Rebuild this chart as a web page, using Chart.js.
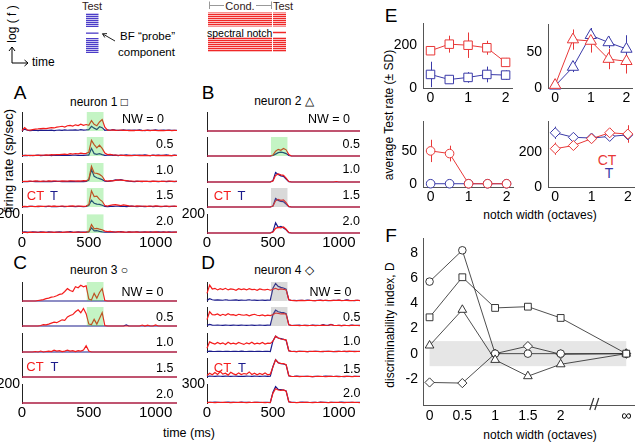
<!DOCTYPE html>
<html><head><meta charset="utf-8">
<script src="https://cdn.jsdelivr.net/npm/chart.js@4.4.0/dist/chart.umd.min.js"></script>
<style>
body{margin:0;width:640px;height:442px;position:relative;overflow:hidden;background:#fff;font-family:"Liberation Sans",Arial,sans-serif;color:#000;}
canvas{position:absolute;}
.t{position:absolute;white-space:nowrap;line-height:1;}
</style></head><body>
<svg width="300" height="70" style="position:absolute;left:0;top:0">
<defs>
<pattern id="pb" width="8" height="2" patternUnits="userSpaceOnUse"><rect width="8" height="1.3" fill="#4b3cc8"/></pattern>
<pattern id="pr" width="8" height="2" patternUnits="userSpaceOnUse"><rect width="8" height="1.3" fill="#f02828"/></pattern>
</defs>
<rect x="86" y="13" width="12.5" height="14" fill="url(#pb)"/>
<rect x="86" y="32.5" width="12.5" height="1.3" fill="#4b3cc8"/>
<rect x="86" y="38" width="12.5" height="15" fill="url(#pb)"/>
<rect x="208" y="12.5" width="78" height="14" fill="url(#pr)"/>
<rect x="208" y="37" width="78" height="15" fill="url(#pr)"/>
<line x1="272.5" y1="12" x2="272.5" y2="53" stroke="#fff" stroke-width="1"/>
<line x1="273" y1="32.5" x2="286" y2="32.5" stroke="#f02828" stroke-width="1.5"/>
<path d="M209.5 1.5 V9 M209.5 5.5 H224 M256 5.5 H271.5 M271.5 1.5 V9" stroke="#999" fill="none"/>
<path d="M115 41 L102.5 33.8 M102.5 33.8 L107 33.6 M102.5 33.8 L104.8 37.5" stroke="#222" fill="none"/>
<path d="M12 63 V47 M9 51 L12 47 L15 51 M12 63 H28 M24.5 60 L28 63 L24.5 66" stroke="#000" fill="none"/>
</svg>
<div class="t" style="left:11.5px;top:24px;font-size:12px;transform:translate(-50%,-50%) rotate(-90deg)">log ( f )</div>
<div class="t" style="left:32px;top:62px;font-size:12px;transform:translateY(-50%)">time</div>
<div class="t" style="left:92px;top:6px;font-size:11px;color:#302020;transform:translate(-50%,-50%)">Test</div>
<div class="t" style="left:120px;top:37px;font-size:11.5px;transform:translateY(-50%)">BF “probe”</div>
<div class="t" style="left:118px;top:53px;font-size:11.5px;transform:translateY(-50%)">component</div>
<div class="t" style="left:240px;top:5.5px;font-size:11px;color:#302020;transform:translate(-50%,-50%)">Cond.</div>
<div class="t" style="left:283px;top:5.5px;font-size:11px;color:#302020;transform:translate(-50%,-50%)">Test</div>
<div class="t" style="left:207px;top:32.5px;font-size:10.5px;transform:translateY(-50%)">spectral notch</div>

<div class="t" style="left:20px;top:92px;font-size:19px;transform:translate(-50%,-50%)">A</div>
<div class="t" style="left:208px;top:92px;font-size:19px;transform:translate(-50%,-50%)">B</div>
<div class="t" style="left:20px;top:262px;font-size:19px;transform:translate(-50%,-50%)">C</div>
<div class="t" style="left:208px;top:262px;font-size:19px;transform:translate(-50%,-50%)">D</div>
<div class="t" style="left:391px;top:15px;font-size:19px;transform:translate(-50%,-50%)">E</div>
<div class="t" style="left:391px;top:235px;font-size:19px;transform:translate(-50%,-50%)">F</div>

<div class="t" style="left:99px;top:102px;font-size:12px;transform:translate(-50%,-50%)">neuron 1 □</div>
<div class="t" style="left:284px;top:101px;font-size:12px;transform:translate(-50%,-50%)">neuron 2 △</div>
<div class="t" style="left:99px;top:270px;font-size:12px;transform:translate(-50%,-50%)">neuron 3 ○</div>
<div class="t" style="left:284px;top:270px;font-size:12px;transform:translate(-50%,-50%)">neuron 4 ◇</div>

<div class="t" style="left:8px;top:161px;font-size:13px;transform:translate(-50%,-50%) rotate(-90deg)">firing rate (sp/sec)</div>
<div class="t" style="left:189px;top:433px;font-size:12.5px;transform:translate(-50%,-50%)">time (ms)</div>
<div class="t" style="left:389px;top:115px;font-size:12px;transform:translate(-50%,-50%) rotate(-90deg)">average Test rate (± SD)</div>
<div class="t" style="left:390px;top:325px;font-size:12px;transform:translate(-50%,-50%) rotate(-90deg)">discriminability index, D</div>
<div class="t" style="left:540px;top:215px;font-size:12px;transform:translate(-50%,-50%)">notch width (octaves)</div>
<div class="t" style="left:540px;top:435px;font-size:12px;transform:translate(-50%,-50%)">notch width (octaves)</div>
<div class="t" style="left:607px;top:160px;font-size:14px;color:#e83838;transform:translate(-50%,-50%)">CT</div>
<div class="t" style="left:609px;top:173px;font-size:14px;color:#3a3aa8;transform:translate(-50%,-50%)">T</div>

<div id="lab"></div>
<script>
// ---------- DATA ----------
const times = [0,20,40,60,80,100,120,140,160,180,200,220,240,260,280,300,320,340,360,380,400,420,440,460,480,
 500,520,540,560,580,600,620,
 640,660,680,700,720,740,760,780,800,820,840,860,880,900,920,940,960,980,1000,1020,1040,1060,1080,1100,1120,1140,1160,1180,1200];
const timeTicks = [0,500,1000];
const testWindow = [485, 610];
const nwLabels = ['NW = 0','0.5','1.0','1.5','2.0'];

// neuron 1 (A): CT (red) and T (blue) PSTHs, sp/sec
const a0r = [5,35,12,10,15, 20,22,25,28,25, 30,35,32,40,45, 50,42,55,60,52, 65,58,72,60,68,
 60,110,70,55,95,120,40,
 10,8,12,6,8, 10,6,8,5,7, 5,8,6,5,7, 6,5,8,6,5, 7,5,6,8,5, 6,5,7,5];
const a0b = [3,20,8,5,6, 8,5,10,6,8, 6,9,5,8,10, 7,12,8,10,9, 12,8,15,10,12,
 15,50,30,15,45,35,8,
 12,8,15,10,6, 8,12,6,10,7, 9,6,12,8,5, 10,7,6,12,8, 6,9,7,10,6, 8,6,9,7];
const a1r = [5,6,8,5,7, 8,6,10,8,12, 10,14,12,16,14, 18,20,16,24,20, 26,22,30,25,28,
 40,165,120,85,115,80,30,
 15,18,12,10,8, 6,7,5,6,4, 5,6,4,7,5, 6,5,8,5,6, 5,7,4,6,5, 6,5,7,5];
const a1b = [4,6,5,8,5, 6,9,5,7,6, 8,5,9,6,7, 8,6,10,7,8, 9,6,8,7,9,
 10,80,25,18,25,15,6,
 8,12,6,9,5, 10,7,12,8,6, 9,7,10,6,12, 8,5,9,7,10, 6,8,12,7,5, 9,6,8,7];
const a2r = [5,8,6,10,8, 12,9,7,10,8, 11,9,13,10,8, 12,10,9,11,13, 10,12,9,14,11,
 30,165,95,90,80,60,15,
 10,15,12,18,22, 20,18,15,12,10, 8,10,7,9,6, 8,7,9,6,8, 7,6,8,9,6, 7,8,6,7];
const a2b = [3,5,4,6,5, 4,6,5,7,5, 6,4,5,6,7, 5,6,4,6,5, 7,5,6,5,6,
 20,130,60,45,35,25,8,
 6,10,15,22,20, 25,18,12,8,6, 5,7,6,5,8, 6,5,7,6,5, 6,8,5,7,6, 5,7,6,5];
const a3r = [4,6,5,8,6, 5,9,7,6,8, 10,7,9,6,8, 10,8,7,9,11, 8,10,9,7,10,
 25,170,110,115,80,60,15,
 10,18,22,25,20, 15,22,18,12,10, 8,12,10,8,9, 7,10,8,12,9, 7,8,10,6,8, 9,7,8,6];
const a3b = [3,5,4,6,8, 5,4,6,5,4, 8,5,6,4,5, 6,4,5,7,5, 4,6,5,4,6,
 15,70,40,30,28,18,6,
 5,7,6,8,10, 6,8,5,7,9, 6,5,7,6,5, 6,8,5,6,7, 5,6,8,5,6, 7,5,6,5];
const a4r = [6,8,5,9,7, 10,8,6,9,7, 8,10,7,9,8, 6,9,11,8,7, 9,10,8,7,9,
 15,90,45,50,42,35,20,
 15,18,12,10,14, 10,12,8,11,9, 10,12,8,10,9, 11,8,10,12,9, 8,10,11,9,8, 10,9,8,10];
const a4b = [8,12,10,6,11, 9,7,12,10,8, 11,9,6,10,12, 9,8,11,14,10, 8,12,9,11,10,
 12,55,22,25,18,12,8,
 10,8,12,9,11, 14,10,8,12,9, 11,13,9,10,12, 8,11,9,10,13, 9,11,8,12,10, 9,11,10,8];

// neuron 2 (B)
const flat = [0,0,0,0,0, 0,0,0,0,0, 0,0,0,0,0, 0,0,0,0,0, 0,0,0,0,0,
 0,0,0,0,0,0,0,
 0,0,0,0,0, 0,0,0,0,0, 0,0,0,0,0, 0,0,0,0,0, 0,0,0,0,0, 0,0,0,0];
const b0r = flat, b0b = flat;
const b1r = [0,0,0,0,0, 0,0,0,0,0, 0,0,0,0,0, 0,0,0,0,0, 0,0,0,0,0,
 10,50,70,60,80,65,15,
 0,0,0,0,0, 0,0,0,0,0, 0,0,0,0,0, 0,0,0,0,0, 0,0,0,0,0, 0,0,0,0];
const b1b = [0,0,0,0,0, 0,0,0,0,0, 0,0,0,0,0, 0,0,0,0,0, 0,0,0,0,0,
 5,20,35,40,35,25,5,
 0,0,0,0,0, 0,0,0,0,0, 0,0,0,0,0, 0,0,0,0,0, 0,0,0,0,0, 0,0,0,0];
const b2r = [0,0,0,0,0, 0,0,0,0,0, 0,0,0,0,0, 0,0,0,0,0, 0,0,0,0,0,
 10,70,85,75,70,40,5,
 0,0,0,0,0, 0,0,0,0,0, 0,0,0,0,0, 0,0,5,0,0, 0,0,0,0,0, 0,0,0,0];
const b2b = [0,0,0,0,0, 0,0,0,0,0, 0,0,0,0,0, 0,0,0,0,0, 0,0,0,0,0,
 15,100,80,65,60,30,3,
 0,0,0,0,0, 0,0,0,0,0, 0,0,0,0,0, 0,0,0,0,0, 0,0,0,0,0, 0,0,0,0];
const b3r = [0,0,0,0,0, 0,0,0,0,0, 0,0,0,0,0, 0,0,0,0,0, 0,0,0,0,0,
 10,65,80,70,75,45,5,
 0,0,0,0,0, 0,0,0,0,0, 0,0,0,0,0, 0,0,0,0,0, 0,0,0,0,0, 0,0,0,0];
const b3b = [0,0,0,0,0, 0,0,0,0,0, 0,0,0,0,0, 0,0,0,0,0, 0,0,0,0,0,
 10,90,70,60,55,30,3,
 0,0,0,0,0, 0,0,0,0,0, 0,0,0,0,0, 0,0,0,0,0, 0,0,0,0,0, 0,0,0,0];
const b4r = [0,0,0,0,0, 0,0,0,0,0, 0,0,0,0,0, 0,0,0,0,0, 0,0,0,0,0,
 10,50,60,55,65,40,5,
 0,0,0,0,0, 0,0,0,0,0, 0,0,0,0,0, 0,0,0,0,0, 0,0,0,0,0, 0,0,0,0];
const b4b = [0,0,0,0,0, 0,0,0,0,0, 0,0,0,0,0, 0,0,0,0,0, 0,0,0,0,0,
 15,110,60,70,55,35,3,
 0,0,0,0,0, 0,0,0,0,0, 0,0,0,0,0, 0,0,0,0,0, 0,0,0,0,0, 0,0,0,0];

// neuron 3 (C)
const c0r = [0,0,0,0,0, 0,5,10,15,25, 30,40,45,55,70, 75,100,130,110,100, 150,140,165,150,160,
 20,10,80,30,90,130,5,
 0,0,0,0,0, 0,0,0,0,0, 0,0,0,0,0, 0,0,0,0,0, 0,0,0,0,0, 0,0,0,0];
const c0b = flat;
const c1r = [0,0,0,0,0, 0,0,5,15,12, 20,30,40,35,50, 65,60,95,110,120, 150,170,140,185,130,
 20,15,70,20,80,140,5,
 0,0,0,0,0, 0,0,0,0,0, 0,0,0,10,0, 8,0,0,12,0, 0,0,0,0,0, 0,0,10,0];
const c1b = [0,0,0,0,0, 0,0,0,0,0, 0,0,0,0,0, 0,0,0,0,0, 0,0,0,0,0,
 0,0,0,0,0,0,0,
 0,0,0,0,0, 0,0,12,0,0, 0,0,0,0,0, 0,0,0,0,0, 0,0,0,0,0, 0,0,0,0];
const c2r = [0,0,0,0,0, 5,0,10,0,5, 10,5,20,10,15, 5,10,20,10,15, 5,15,10,20,65,
 10,0,0,0,0,0,0,
 0,0,0,0,0, 0,0,0,0,0, 0,0,0,0,0, 0,0,0,0,0, 0,0,0,0,0, 0,0,0,0];
const c2b = flat, c3r = flat, c3b = flat, c4r = flat, c4b = flat;

// neuron 4 (D)
const d0r = [120,250,190,200,175, 195,180,200,175,190, 185,170,195,180,190, 175,195,180,185,170, 190,180,175,185,170,
 185,200,180,190,185,175,20,
 10,5,8,6,10, 5,8,12,6,5, 8,10,6,12,8, 5,10,8,15,6, 8,10,5,7,9, 12,6,8,5];
const d0b = [10,35,20,15,18, 15,12,20,14,12, 15,18,10,14,12, 15,20,12,14,10, 12,15,10,14,12,
 200,275,230,215,205,185,20,
 8,10,6,12,10, 8,15,10,8,6, 12,15,8,10,6, 8,12,10,15,8, 12,18,10,8,6, 12,8,10,6];
const d1r = [100,225,180,175,190, 165,185,170,195,175, 180,165,185,175,170, 180,160,175,185,170, 165,175,160,170,165,
 180,205,200,190,195,185,20,
 10,8,12,6,8, 10,5,8,12,6, 8,10,15,8,12, 20,10,8,12,6, 10,8,6,12,10, 8,6,10,8];
const d1b = [10,25,15,12,15, 12,10,15,12,10, 14,12,10,15,12, 10,12,14,10,12, 15,12,10,14,12,
 180,250,225,215,210,195,20,
 8,12,10,15,8, 10,12,8,15,10, 12,8,20,12,10, 25,12,8,10,6, 12,8,10,15,8, 10,12,6,8];
const d2r = [60,160,140,125,150, 130,145,120,155,130, 140,125,150,135,120, 145,130,155,125,140, 130,150,125,140,135,
 170,250,220,205,200,190,20,
 10,8,6,12,8, 10,6,8,12,10, 8,6,10,8,12, 10,8,6,10,8, 12,10,15,8,6, 10,8,6,10];
const d2b = [5,15,10,8,12, 10,8,12,10,8, 12,10,8,15,10, 8,12,10,8,10, 12,8,10,12,8,
 175,250,220,210,200,185,20,
 8,10,6,12,10, 8,6,10,8,12, 10,8,6,12,10, 8,6,10,12,8, 10,6,8,10,12, 8,10,6,8];
const d3r = [25,60,35,70,40, 85,45,60,30,75, 50,35,65,40,55, 45,80,40,60,35, 55,40,65,35,45,
 160,270,225,215,210,195,20,
 10,8,12,6,10, 8,12,10,6,8, 10,12,8,6,10, 12,8,10,6,8, 12,10,8,6,10, 8,12,10,6];
const d3b = [8,15,12,10,14, 12,10,15,12,10, 12,14,10,12,10, 15,12,10,14,12, 10,12,15,10,12,
 165,275,225,210,205,190,20,
 8,10,15,12,8, 10,12,8,6,10, 12,8,10,15,12, 10,8,12,10,8, 6,10,12,8,10, 12,8,10,6];
const d4r = [5,10,8,6,10, 8,12,10,8,6, 10,8,12,10,8, 6,10,8,12,10, 8,10,6,8,10,
 160,230,210,205,210,190,20,
 10,8,6,10,8, 12,10,8,6,10, 8,12,10,8,6, 10,8,12,10,8, 6,10,8,12,10, 8,6,10,8];
const d4b = [8,12,10,15,12, 10,8,12,15,10, 12,10,8,15,12, 10,12,8,10,12, 10,8,12,10,8,
 175,265,220,215,210,195,20,
 10,12,8,10,15, 12,10,8,12,10, 8,15,12,10,8, 12,10,8,10,15, 12,8,10,12,8, 10,12,8,10];

// E: average Test rate (± SD) vs notch width
const notchW = [0, 0.5, 1, 1.5, 2];
const eTicksX = [0, 1, 2];
const n1CT = [176, 207, 202, 190, 121], n1CTsd = [20, 40, 60, 33, 21];
const n1T  = [64, 40, 50, 64, 61],      n1Tsd  = [60, 10, 25, 37, 22];
const n2CT = [4, 67, 65, 40, 37],       n2CTsd = [3, 14, 16, 14, 17];
const n2T  = [3, 29, 73, 63, 54],       n2Tsd  = [2, 7, 10, 8, 19];
const n3CT = [50, 46, 0, 0, 0],         n3CTsd = [17, 12, 0, 0, 0];
const n3T  = [0, 0, 0, 0, 0],           n3Tsd  = [0, 0, 0, 0, 0];
const n4CT = [219, 237, 276, 310, 303], n4CTsd = [35, 25, 15, 25, 50];
const n4T  = [310, 284, 280, 289, 298], n4Tsd  = [35, 20, 10, 15, 20];

// F: discriminability index D
const fX = [0, 0.5, 1, 1.5, 2, 3];
const fXLabels = ['0', '0.5', '1', '1.5', '2', '∞'];
const fYTicks = [-2, 0, 2, 4, 6, 8];
const dN1 = [2.9, 6.1, 3.65, 3.75, 2.85, 0];
const dN2 = [0.65, 3.5, -0.5, -1.8, -0.85, 0];
const dN3 = [5.75, 8.25, 0, 0, 0, 0];
const dN4 = [-2.3, -2.35, 0, 0.6, -0.05, 0];

// ---------- DRAWING ----------
Chart.defaults.font.family = '"Liberation Sans", Arial, sans-serif';
Chart.defaults.color = '#000';
const RED = '#f41c1c', BLUE = '#1c1c8c';
const GREEN = 'rgba(60,220,60,0.3)', GRAY = 'rgba(128,128,128,0.3)';
const ERED = '#e83838', EBLUE = '#3a3aa8', AX = '#555';
const NOGRID = {display: false, drawTicks: false, tickLength: 0};

const shadePlugin = {
  id: 'shade',
  afterDatasetsDraw(chart) {
    const o = chart.options.plugins.shade;
    if (!o || !o.color) return;
    const {ctx, chartArea: a, scales: {x}} = chart;
    const x1 = x.getPixelForValue(o.from), x2 = x.getPixelForValue(o.to);
    ctx.save(); ctx.fillStyle = o.color; ctx.fillRect(x1, a.top, x2 - x1, a.bottom - a.top); ctx.restore();
  }
};
const errPlugin = {
  id: 'errbars',
  beforeDatasetsDraw(chart) {
    const {ctx, scales: {x, y}} = chart;
    chart.data.datasets.forEach(ds => {
      if (!ds.sd) return;
      ctx.save(); ctx.strokeStyle = ds.borderColor; ctx.lineWidth = 1;
      ds.data.forEach((p, i) => {
        const px = Math.round(x.getPixelForValue(p.x)) + 0.5;
        ctx.beginPath();
        ctx.moveTo(px, y.getPixelForValue(p.y - ds.sd[i]));
        ctx.lineTo(px, y.getPixelForValue(p.y + ds.sd[i]));
        ctx.stroke();
      });
      ctx.restore();
    });
  }
};
const bandPlugin = {
  id: 'band',
  beforeDatasetsDraw(chart) {
    const {ctx, scales: {x, y}} = chart;
    const x1 = x.getPixelForValue(0), x2 = x.getPixelForValue(3);
    const y1 = y.getPixelForValue(1), y2 = y.getPixelForValue(-1);
    ctx.save(); ctx.fillStyle = '#e6e6e6'; ctx.fillRect(x1, y1, x2 - x1, y2 - y1); ctx.restore();
  },
  afterDraw(chart) {
    const {ctx, scales: {x}, chartArea: a} = chart;
    const xb = x.getPixelForValue(2.52);
    ctx.save(); ctx.strokeStyle = '#333'; ctx.lineWidth = 1.2;
    ctx.beginPath();
    ctx.moveTo(xb - 5, a.bottom + 5); ctx.lineTo(xb - 1, a.bottom - 7);
    ctx.moveTo(xb, a.bottom + 5); ctx.lineTo(xb + 4, a.bottom - 7);
    ctx.stroke(); ctx.restore();
  }
};

function mk(box, cfg) {
  const c = document.createElement('canvas');
  const W = box.pl + box.w + box.pr, H = box.pt + box.h + box.pb;
  c.width = W; c.height = H;
  c.style.left = (box.l - box.pl) + 'px'; c.style.top = (box.t - box.pt) + 'px';
  c.style.width = W + 'px'; c.style.height = H + 'px';
  document.body.appendChild(c);
  const o = cfg.options;
  o.responsive = false; o.animation = false; o.devicePixelRatio = 1; o.events = [];
  o.layout = {padding: {top: box.pt, right: box.pr, left: 0, bottom: 0}};
  o.plugins = Object.assign({legend: {display: false}, tooltip: {enabled: false}}, o.plugins || {});
  o.scales.x.afterFit = s => { s.height = box.pb; };
  o.scales.y.afterFit = s => { s.width = box.pl; };
  return new Chart(c, cfg);
}

function psth(l, t, w, h, red, blue, ymax, shade, bottom) {
  const box = bottom ? {l, t, w, h, pl: 30, pt: 10, pr: 8, pb: 22} : {l, t, w, h, pl: 2, pt: 2, pr: 8, pb: 3};
  const clip = {left: 3, top: 3, right: 0, bottom: 3};
  mk(box, {
    type: 'line',
    data: {datasets: [
      {data: times.map((x, i) => ({x, y: red[i]})), borderColor: RED, borderWidth: 1.2, pointRadius: 0, clip},
      {data: times.map((x, i) => ({x, y: blue[i]})), borderColor: BLUE, borderWidth: 1.2, pointRadius: 0, clip}
    ]},
    options: {
      plugins: {shade: shade ? {from: testWindow[0], to: testWindow[1], color: shade === 'g' ? GREEN : GRAY} : {}},
      scales: {
        x: {type: 'linear', min: 0, max: 1160, grid: NOGRID, border: {display: false},
            ticks: {display: bottom, font: {size: 15}, padding: 1, maxRotation: 0, callback: v => String(v)},
            afterBuildTicks: s => { s.ticks = timeTicks.map(v => ({value: v})); }},
        y: {type: 'linear', min: 0, max: ymax, grid: NOGRID, border: {display: true, color: '#222', width: 1},
            ticks: {display: bottom, font: {size: 14}, padding: 2, callback: v => String(v)},
            afterBuildTicks: s => { s.ticks = [{value: ymax}]; }}
      }
    },
    plugins: [shadePlugin]
  });
}

const panels = [
  {l: 22, w: 155, tops: [112,137,163,188,214], ymax: 200, rows: [[a0r,a0b],[a1r,a1b],[a2r,a2b],[a3r,a3b],[a4r,a4b]], shade: ['g','g','g','g','g']},
  {l: 207, w: 153, tops: [112,137,163,188,214], ymax: 200, rows: [[b0r,b0b],[b1r,b1b],[b2r,b2b],[b3r,b3b],[b4r,b4b]], shade: [null,'g',null,'k',null]},
  {l: 22, w: 155, tops: [282,307,333,358,384], ymax: 200, rows: [[c0r,c0b],[c1r,c1b],[c2r,c2b],[c3r,c3b],[c4r,c4b]], shade: ['g','g',null,null,null]},
  {l: 207, w: 153, tops: [282,307,333,358,384], ymax: 300, rows: [[d0r,d0b],[d1r,d1b],[d2r,d2b],[d3r,d3b],[d4r,d4b]], shade: ['k','k',null,null,null]}
];
panels.forEach(p => p.rows.forEach((r, i) => psth(p.l, p.tops[i], p.w, 19, r[0], r[1], p.ymax, p.shade[i], i === 4)));

// NW labels and CT/T
const nwPos = [
  {r1: 164, r: 173.5, ys: [119,144,169.5,195,221]},
  {r1: 350, r: 360, ys: [119,143.5,169,195,221]},
  {r1: 163.5, r: 173.5, ys: [291.7,316.7,341.7,368,394]},
  {r1: 351.5, r: 360.5, ys: [291.7,316.7,341,369,393]}
];
const lab = document.getElementById('lab');
function addText(s, x, y, size, color, tf) {
  const d = document.createElement('div');
  d.className = 't'; d.textContent = s;
  d.style.left = x + 'px'; d.style.top = y + 'px'; d.style.fontSize = size + 'px';
  if (color) d.style.color = color;
  d.style.transform = tf; d.style.zIndex = 5;
  lab.appendChild(d);
}
nwPos.forEach(p => nwLabels.forEach((s, i) => {
  const d = document.createElement('div');
  d.className = 't'; d.textContent = s; d.style.fontSize = '12.5px';
  d.style.right = (640 - (i === 0 ? p.r1 : p.r)) + 'px'; d.style.top = p.ys[i] + 'px';
  d.style.transform = 'translateY(-50%)'; d.style.zIndex = 5;
  lab.appendChild(d);
}));
[[35.5,195,54,195],[222.5,195,241.5,195],[35,366,54.5,366],[222.5,366.5,242,366.5]].forEach(q => {
  addText('CT', q[0], q[1], 13, RED, 'translate(-50%,-50%)');
  addText('T', q[2], q[3], 13, BLUE, 'translate(-50%,-50%)');
});

// E panels
function ePanel(box, ymin, ymax, yticks, ct, ctsd, t, tsd, style, r) {
  const ds = (y, sd, col) => ({data: notchW.map((x, i) => ({x, y: y[i]})), sd, borderColor: col, borderWidth: 1,
    pointStyle: style, pointRadius: r, pointBackgroundColor: '#fff', pointBorderColor: col, pointBorderWidth: 1, clip: false});
  mk(box, {
    type: 'line',
    data: {datasets: [ds(ct, ctsd, ERED), ds(t, tsd, EBLUE)]},
    options: {
      scales: {
        x: {type: 'linear', min: -0.2, max: 2.17, grid: NOGRID, border: {display: true, color: AX, width: 1},
            ticks: {font: {size: 14}, padding: 2, maxRotation: 0, callback: v => String(v)},
            afterBuildTicks: s => { s.ticks = eTicksX.map(v => ({value: v})); }},
        y: {type: 'linear', min: ymin, max: ymax, grid: NOGRID, border: {display: true, color: AX, width: 1},
            ticks: {font: {size: 14}, padding: 6, callback: v => String(v)},
            afterBuildTicks: s => { s.ticks = yticks.map(v => ({value: v})); }}
      }
    },
    plugins: [errPlugin]
  });
}
ePanel({l: 423, t: 17, w: 90, h: 71, pl: 32, pt: 8, pr: 6, pb: 20}, 0, 305, [0, 200], n1CT, n1CTsd, n1T, n1Tsd, 'rect', 6);
ePanel({l: 548, t: 18, w: 90, h: 70, pl: 26, pt: 8, pr: 2, pb: 20}, 0, 88, [0, 50], n2CT, n2CTsd, n2T, n2Tsd, 'triangle', 6.5);
ePanel({l: 423, t: 115, w: 90, h: 72, pl: 32, pt: 8, pr: 6, pb: 20}, -5, 95, [0, 50], n3CT, n3CTsd, n3T, n3Tsd, 'circle', 4.3);
ePanel({l: 548, t: 115, w: 90, h: 72, pl: 32, pt: 8, pr: 2, pb: 20}, 0, 375, [0, 200], n4CT, n4CTsd, n4T, n4Tsd, 'rectRot', 5);

// F panel
const fds = (y, style, r) => ({data: fX.map((x, i) => ({x, y: y[i]})), borderColor: '#222', borderWidth: 0.8,
  pointStyle: style, pointRadius: r, pointBackgroundColor: '#fff', pointBorderColor: '#222', pointBorderWidth: 0.9, clip: false});
mk({l: 423, t: 233, w: 217, h: 172, pl: 30, pt: 8, pr: 0, pb: 22}, {
  type: 'line',
  data: {datasets: [fds(dN1, 'rect', 4.8), fds(dN2, 'triangle', 5), fds(dN3, 'circle', 3.8), fds(dN4, 'rectRot', 4.6)]},
  options: {
    scales: {
      x: {type: 'linear', min: -0.1, max: 3.12, grid: NOGRID, border: {display: true, color: AX, width: 1},
          ticks: {font: {size: 14}, padding: 3, maxRotation: 0, callback: (v, i) => fXLabels[i]},
          afterBuildTicks: s => { s.ticks = fX.map(v => ({value: v})); }},
      y: {type: 'linear', min: -4.1, max: 9.2, grid: NOGRID, border: {display: true, color: AX, width: 1},
          ticks: {font: {size: 14}, padding: 5, callback: v => String(v)},
          afterBuildTicks: s => { s.ticks = fYTicks.map(v => ({value: v})); }}
    }
  },
  plugins: [bandPlugin]
});
</script>
</body></html>
